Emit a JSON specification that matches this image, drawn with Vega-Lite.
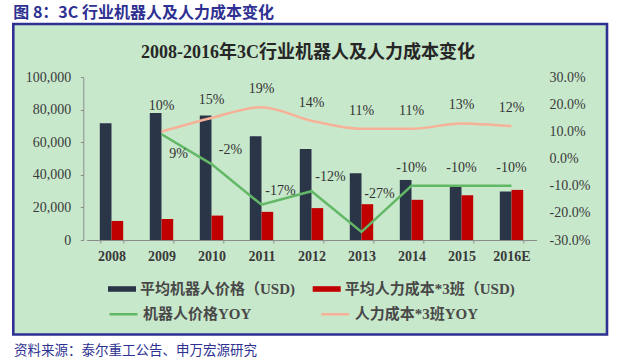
{
  "$schema": "https://vega.github.io/schema/vega-lite/v6.json",
  "background": "white",
  "autosize": {"type": "none"},
  "padding": {"left": 13.3, "top": 24, "right": 11, "bottom": 27.5},
  "width": 593.7,
  "height": 310.5,
  "view": {"fill": "#c8e8cc", "stroke": "#2e3192", "strokeWidth": 2.6},
  "config": {
    "locale": {"number": {"decimal": ".", "thousands": ",", "grouping": [3], "currency": ["$", ""], "minus": "-"}},
    "font": "Liberation Serif"
  },
  "title": {
    "text": "图 8：3C 行业机器人及人力成本变化",
    "anchor": "start",
    "font": "Noto Sans CJK SC",
    "fontSize": 16,
    "fontWeight": "bold",
    "color": "#2e3192",
    "baseline": "middle",
    "offset": -5,
    "frame": "group"
  },
  "datasets": {
    "bars": [
      {"year": "2008", "series": "平均机器人价格（USD)", "value": 71800},
      {"year": "2008", "series": "平均人力成本*3班（USD)", "value": 11700},
      {"year": "2009", "series": "平均机器人价格（USD)", "value": 78000},
      {"year": "2009", "series": "平均人力成本*3班（USD)", "value": 12900},
      {"year": "2010", "series": "平均机器人价格（USD)", "value": 76500},
      {"year": "2010", "series": "平均人力成本*3班（USD)", "value": 15000},
      {"year": "2011", "series": "平均机器人价格（USD)", "value": 63800},
      {"year": "2011", "series": "平均人力成本*3班（USD)", "value": 17300},
      {"year": "2012", "series": "平均机器人价格（USD)", "value": 56000},
      {"year": "2012", "series": "平均人力成本*3班（USD)", "value": 19600},
      {"year": "2013", "series": "平均机器人价格（USD)", "value": 41000},
      {"year": "2013", "series": "平均人力成本*3班（USD)", "value": 22000},
      {"year": "2014", "series": "平均机器人价格（USD)", "value": 36900},
      {"year": "2014", "series": "平均人力成本*3班（USD)", "value": 24700},
      {"year": "2015", "series": "平均机器人价格（USD)", "value": 33000},
      {"year": "2015", "series": "平均人力成本*3班（USD)", "value": 27500},
      {"year": "2016E", "series": "平均机器人价格（USD)", "value": 29800},
      {"year": "2016E", "series": "平均人力成本*3班（USD)", "value": 30800}
    ],
    "lines": [
      {"year": "2009", "series": "机器人价格YOY", "yoy": 0.09},
      {"year": "2010", "series": "机器人价格YOY", "yoy": -0.02},
      {"year": "2011", "series": "机器人价格YOY", "yoy": -0.17},
      {"year": "2012", "series": "机器人价格YOY", "yoy": -0.12},
      {"year": "2013", "series": "机器人价格YOY", "yoy": -0.27},
      {"year": "2014", "series": "机器人价格YOY", "yoy": -0.10},
      {"year": "2015", "series": "机器人价格YOY", "yoy": -0.10},
      {"year": "2016E", "series": "机器人价格YOY", "yoy": -0.10},
      {"year": "2009", "series": "人力成本*3班YOY", "yoy": 0.10},
      {"year": "2010", "series": "人力成本*3班YOY", "yoy": 0.15},
      {"year": "2011", "series": "人力成本*3班YOY", "yoy": 0.19},
      {"year": "2012", "series": "人力成本*3班YOY", "yoy": 0.14},
      {"year": "2013", "series": "人力成本*3班YOY", "yoy": 0.11},
      {"year": "2014", "series": "人力成本*3班YOY", "yoy": 0.11},
      {"year": "2015", "series": "人力成本*3班YOY", "yoy": 0.13},
      {"year": "2016E", "series": "人力成本*3班YOY", "yoy": 0.12}
    ]
  },
  "layer": [
    {
      "data": {"name": "bars"},
      "mark": {"type": "bar"},
      "encoding": {
        "x": {
          "field": "year",
          "type": "nominal",
          "sort": ["2008", "2009", "2010", "2011", "2012", "2013", "2014", "2015", "2016E"],
          "scale": {"type": "band", "range": [73.2, 523.2], "paddingInner": 0.532, "paddingOuter": 0.266},
          "axis": {
            "orient": "bottom",
            "offset": -94.5,
            "labelAngle": 0,
            "labelFont": "Liberation Serif",
            "labelFontSize": 14,
            "labelFontWeight": "bold",
            "labelColor": "#3a3a3a",
            "labelBaseline": "middle",
            "labelPadding": 13,
            "tickBand": "extent",
            "tickSize": 3,
            "tickColor": "#8c8c8c",
            "domainColor": "#8c8c8c",
            "grid": false,
            "title": "资料来源：泰尔重工公告、申万宏源研究",
            "titleX": 0.3,
            "titleY": 110.7,
            "titleAlign": "left",
            "titleAngle": 0,
            "titleBaseline": "middle",
            "titleFont": "Noto Sans CJK SC",
            "titleFontSize": 13.5,
            "titleFontWeight": "normal",
            "titleColor": "#2e3192"
          }
        },
        "xOffset": {
          "field": "series",
          "type": "nominal",
          "sort": ["平均机器人价格（USD)", "平均人力成本*3班（USD)"],
          "scale": {"paddingInner": 0, "paddingOuter": 0}
        },
        "y": {
          "field": "value",
          "type": "quantitative",
          "scale": {"domain": [0, 100000], "range": [216, 53.3], "nice": false},
          "axis": {
            "title": null,
            "orient": "left",
            "offset": -70,
            "values": [0, 20000, 40000, 60000, 80000, 100000],
            "format": ",.0f",
            "labelFont": "Liberation Serif",
            "labelFontSize": 14,
            "labelColor": "#3a3a3a",
            "labelPadding": 9.5,
            "tickSize": 3,
            "tickColor": "#8c8c8c",
            "domainColor": "#8c8c8c",
            "grid": false
          }
        },
        "fill": {
          "field": "series",
          "type": "nominal",
          "sort": ["平均机器人价格（USD)", "平均人力成本*3班（USD)"],
          "scale": {"domain": ["平均机器人价格（USD)", "平均人力成本*3班（USD)"], "range": ["#2b3548", "#c00000"]},
          "legend": {
            "title": null,
            "orient": "none",
            "legendX": 94.7,
            "legendY": 251,
            "direction": "horizontal",
            "columns": 2,
            "columnPadding": 16.7,
            "padding": 0,
            "symbolType": "M-1,-0.2H1V0.2H-1Z",
            "symbolSize": 784,
            "symbolStrokeWidth": 0,
            "labelOffset": 4,
            "labelLimit": 300,
            "labelFont": "Liberation Serif, Noto Sans CJK SC",
            "labelFontSize": 15,
            "labelFontWeight": "bold",
            "labelColor": "#484848"
          }
        }
      }
    },
    {
      "data": {"name": "lines"},
      "encoding": {
        "x": {
          "field": "year",
          "type": "nominal",
          "sort": ["2008", "2009", "2010", "2011", "2012", "2013", "2014", "2015", "2016E"],
          "axis": {
            "orient": "top",
            "labels": false,
            "ticks": false,
            "domain": false,
            "grid": false,
            "title": "2008-2016年3C行业机器人及人力成本变化",
            "titleX": 294.2,
            "titleY": 28,
            "titleAlign": "center",
            "titleAngle": 0,
            "titleBaseline": "middle",
            "titleFont": "Liberation Serif, Noto Sans CJK SC",
            "titleFontSize": 18,
            "titleFontWeight": "bold",
            "titleColor": "#262626"
          }
        },
        "y": {
          "field": "yoy",
          "type": "quantitative",
          "scale": {"domain": [-0.3, 0.3], "range": [216, 53.3], "nice": false},
          "axis": {
            "title": null,
            "orient": "right",
            "offset": -70.5,
            "values": [-0.3, -0.2, -0.1, 0, 0.1, 0.2, 0.3],
            "format": ".1%",
            "domain": false,
            "ticks": false,
            "tickSize": 0,
            "labelAlign": "left",
            "labelPadding": 12.5,
            "labelFont": "Liberation Serif",
            "labelFontSize": 14,
            "labelColor": "#3a3a3a",
            "grid": false
          }
        }
      },
      "layer": [
        {
          "transform": [{"filter": "datum.series === '机器人价格YOY'"}],
          "mark": {"type": "line", "strokeWidth": 2.5},
          "encoding": {
            "stroke": {
              "field": "series",
              "type": "nominal",
              "scale": {"domain": ["机器人价格YOY", "人力成本*3班YOY"], "range": ["#62b866", "#f7b196"]},
              "legend": {
                "title": null,
                "orient": "none",
                "legendX": 94.7,
                "legendY": 274.5,
                "direction": "horizontal",
                "columns": 2,
                "columnPadding": 63.7,
                "padding": 0,
                "symbolType": "stroke",
                "symbolSize": 784,
                "symbolStrokeWidth": 2.5,
                "labelOffset": 4,
                "labelLimit": 300,
                "labelFont": "Liberation Serif, Noto Sans CJK SC",
                "labelFontSize": 15,
                "labelFontWeight": "bold",
                "labelColor": "#484848"
              }
            }
          }
        },
        {
          "transform": [{"filter": "datum.series === '人力成本*3班YOY'"}],
          "mark": {"type": "line", "strokeWidth": 2.5, "interpolate": "monotone"},
          "encoding": {
            "stroke": {"field": "series", "type": "nominal"}
          }
        },
        {
          "transform": [{"filter": "datum.series === '人力成本*3班YOY' && datum.year !== '2009'"}],
          "mark": {"type": "text", "dy": -18, "fontSize": 14, "font": "Liberation Serif", "color": "#333333", "baseline": "middle"},
          "encoding": {"text": {"field": "yoy", "type": "quantitative", "format": ".0%"}}
        },
        {
          "transform": [{"filter": "datum.series === '人力成本*3班YOY' && datum.year === '2009'"}],
          "mark": {"type": "text", "dy": -26, "fontSize": 14, "font": "Liberation Serif", "color": "#333333", "baseline": "middle"},
          "encoding": {"text": {"field": "yoy", "type": "quantitative", "format": ".0%"}}
        },
        {
          "transform": [{"filter": "datum.series === '机器人价格YOY' && datum.year === '2009'"}],
          "mark": {"type": "text", "dx": 17, "dy": 20, "fontSize": 14, "font": "Liberation Serif", "color": "#333333", "baseline": "middle"},
          "encoding": {"text": {"field": "yoy", "type": "quantitative", "format": ".0%"}}
        },
        {
          "transform": [{"filter": "datum.series === '机器人价格YOY' && (datum.year === '2010' || datum.year === '2011' || datum.year === '2012')"}],
          "mark": {"type": "text", "dx": 19, "dy": -14, "fontSize": 14, "font": "Liberation Serif", "color": "#333333", "baseline": "middle"},
          "encoding": {"text": {"field": "yoy", "type": "quantitative", "format": ".0%"}}
        },
        {
          "transform": [{"filter": "datum.series === '机器人价格YOY' && datum.year === '2013'"}],
          "mark": {"type": "text", "dx": 18, "dy": -38, "fontSize": 14, "font": "Liberation Serif", "color": "#333333", "baseline": "middle"},
          "encoding": {"text": {"field": "yoy", "type": "quantitative", "format": ".0%"}}
        },
        {
          "transform": [{"filter": "datum.series === '机器人价格YOY' && (datum.year === '2014' || datum.year === '2015' || datum.year === '2016E')"}],
          "mark": {"type": "text", "dy": -18, "fontSize": 14, "font": "Liberation Serif", "color": "#333333", "baseline": "middle"},
          "encoding": {"text": {"field": "yoy", "type": "quantitative", "format": ".0%"}}
        }
      ]
    }
  ],
  "resolve": {"scale": {"y": "independent"}, "axis": {"x": "independent"}}
}
